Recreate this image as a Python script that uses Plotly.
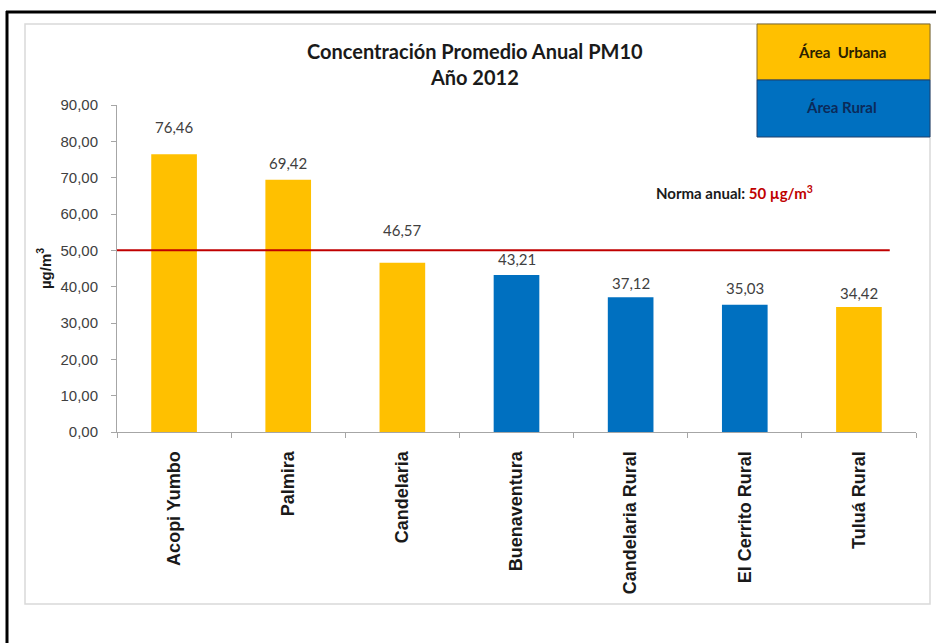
import plotly.graph_objects as go

# Annual mean PM10 by monitoring station, 2012
stations = ["Acopi Yumbo", "Palmira", "Candelaria", "Buenaventura",
            "Candelaria Rural", "El Cerrito Rural", "Tuluá Rural"]
pm10 = [76.46, 69.42, 46.57, 43.21, 37.12, 35.03, 34.42]
area = ["Urbana", "Urbana", "Urbana", "Rural", "Rural", "Rural", "Urbana"]
annual_limit = 50
y_ticks = [0, 10, 20, 30, 40, 50, 60, 70, 80, 90]

# vertical offset (px) of each value label above its bar
label_shift = [26, 16, 32, 15, 13, 16, 13]

URBAN = "#FFC000"
RURAL = "#0070C0"
area_color = {"Urbana": URBAN, "Rural": RURAL}

W, H = 938, 643
L, R, T, B = 117, 22, 105, 211
pw, ph = W - L - R, H - T - B


def px(x):
    return (x - L) / pw


def py(y):
    return (H - B - y) / ph


def note(x, y, text, size, color, **kw):
    return dict(x=px(x), y=py(y), xref="paper", yref="paper",
                xanchor="center", yanchor="middle", text=text,
                showarrow=False,
                font=dict(family="Lato", size=size, color=color, weight="bold"),
                **kw)


fig = go.Figure()
fig.add_trace(go.Bar(
    x=stations, y=pm10,
    marker=dict(color=[area_color[a] for a in area], line=dict(width=0)),
    width=0.4, hoverinfo="x+y", showlegend=False,
))

annotations = []
for s, v, dy in zip(stations, pm10, label_shift):
    annotations.append(dict(
        x=s, y=v, xref="x", yref="y", xanchor="center", yanchor="bottom",
        yshift=dy - 10,
        text=f"{v:.2f}".replace(".", ","), showarrow=False,
        font=dict(family="Lato", size=15, color="#404040"),
    ))

# title
annotations.append(note(475, 64, "Concentración Promedio Anual PM10<br>Año 2012",
                        20, "#1a1a1a", align="center"))
# limit note
annotations.append(note(734, 192,
                        "Norma anual: <span style='color:#C00000'>50 µg/m<sup>3</sup></span>",
                        15, "#1a1a1a"))
# area key
annotations.append(note(842, 52, "Área  Urbana", 15, "#2b2100"))
annotations.append(note(841, 107, "Área Rural", 15, "#0b2a5a"))

shapes = [
    # outer frame
    dict(type="line", xref="paper", yref="paper",
         x0=px(6), x1=px(936), y0=py(12), y1=py(12),
         line=dict(color="#000000", width=3)),
    dict(type="line", xref="paper", yref="paper",
         x0=px(7), x1=px(7), y0=py(11), y1=py(650),
         line=dict(color="#000000", width=3)),
    # chart area border
    dict(type="rect", xref="paper", yref="paper",
         x0=px(25), x1=px(930), y0=py(604), y1=py(24),
         line=dict(color="#D9D9D9", width=1.5), fillcolor="rgba(0,0,0,0)",
         layer="below"),
    # area key boxes
    dict(type="rect", xref="paper", yref="paper",
         x0=px(757), x1=px(930), y0=py(80), y1=py(24),
         line=dict(color="#7f6a30", width=1), fillcolor=URBAN),
    dict(type="rect", xref="paper", yref="paper",
         x0=px(757), x1=px(930), y0=py(137), y1=py(80),
         line=dict(color="#1f3f6a", width=1), fillcolor=RURAL),
    # annual limit line
    dict(type="line", xref="x", yref="y",
         x0=-0.5, x1=6.27, y0=annual_limit, y1=annual_limit,
         line=dict(color="#C00000", width=2)),
]

fig.update_layout(
    width=W, height=H,
    margin=dict(l=L, r=R, t=T, b=B, pad=0),
    paper_bgcolor="white", plot_bgcolor="white",
    separators=",.",
    annotations=annotations, shapes=shapes,
    bargap=0.6,
    xaxis=dict(
        type="category", tickangle=-90,
        showline=True, linecolor="#A6A6A6", linewidth=1,
        ticks="outside", tickson="boundaries", ticklen=5, tickcolor="#A6A6A6",
        ticklabelstandoff=11,
        tickfont=dict(family="Liberation Sans", size=18, color="#1a1a1a", weight="bold"),
        showgrid=False, range=[-0.5, 6.5],
    ),
    yaxis=dict(
        range=[0, 90], tickvals=y_ticks, tickformat=".2f",
        showline=True, linecolor="#A6A6A6", linewidth=1,
        ticks="outside", ticklen=5, tickcolor="#A6A6A6",
        ticklabelstandoff=10,
        tickfont=dict(family="Liberation Sans", size=15, color="#404040"),
        showgrid=False, zeroline=False,
        title=dict(text="µg/m<sup>3</sup>", standoff=5,
                   font=dict(family="Liberation Sans", size=15, color="#1a1a1a", weight="bold")),
    ),
)

fig.write_html("out.html")
